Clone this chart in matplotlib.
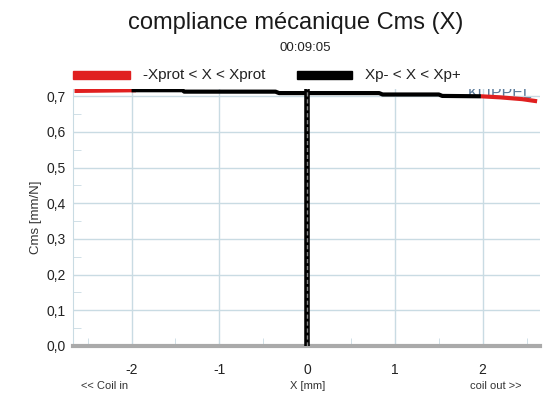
import numpy as np
import matplotlib.pyplot as plt

plt.rcParams['font.family'] = ['Liberation Sans', 'DejaVu Sans']
plt.rcParams['axes.unicode_minus'] = False

# Data
x_red_left = [-2.65, -2.3, -1.95]
cms_red_left = [0.715, 0.716, 0.717]

x_black = [-2.0, -1.42, -1.40, -0.36, -0.32, 0.82, 0.86, 1.50, 1.54, 1.98]
cms_black = [0.717, 0.717, 0.713, 0.713, 0.709, 0.709, 0.705, 0.705, 0.701, 0.700]

x_red_right = [1.98, 2.2, 2.45, 2.62]
cms_red_right = [0.700, 0.697, 0.692, 0.686]

x_rest = [0.0, 0.0]
cms_rest = [0.0, 0.73]

fig = plt.figure(figsize=(5.43, 3.98), dpi=100)
ax = fig.add_axes([0.134, 0.131, 0.86, 0.645])

ax.plot(x_red_left, cms_red_left, color='#e02020', lw=3, solid_capstyle='butt')
ax.plot(x_black, cms_black, color='black', lw=3, solid_capstyle='butt')
ax.plot(x_red_right, cms_red_right, color='#e02020', lw=3, solid_capstyle='butt')
ax.plot(x_rest, cms_rest, color='black', lw=4, solid_capstyle='butt', zorder=4)
ax.plot(x_rest, cms_rest, color='#888888', lw=1, ls=(0, (3, 2)), zorder=5)

ax.set_xlim(-2.67, 2.65)
ax.set_ylim(0, 0.72)
ax.set_xticks([-2, -1, 0, 1, 2])
ax.set_xticks(np.arange(-2.5, 2.6, 0.5), minor=True)
ax.set_yticks(np.arange(0, 0.71, 0.1))
ax.set_yticks(np.arange(0.05, 0.71, 0.1), minor=True)
ax.set_yticklabels([f'{v:.1f}'.replace('.', ',') for v in np.arange(0, 0.71, 0.1)])
ax.grid(True, which='major', color='#c9dbe3', lw=1)
ax.tick_params(which='both', direction='in', colors='#c9dbe3', labelcolor='#222222',
               labelsize=10)
ax.tick_params(which='major', length=0)
ax.tick_params(axis='x', which='major', pad=12)
ax.tick_params(axis='y', which='major', pad=5)
ax.tick_params(which='minor', length=6)
for side in ['top', 'right']:
    ax.spines[side].set_visible(False)
ax.spines['left'].set_color('#c9dbe3')
ax.spines['bottom'].set_color('#aaaaaa')
ax.spines['bottom'].set_linewidth(3)

ax.set_ylabel('Cms [mm/N]', fontsize=9.5, color='#333333', labelpad=3)

ax.text(0.985, 0.982, 'KLIPPEL', transform=ax.transAxes, ha='right', va='center',
        fontsize=11.5, color='#5a7a9a', clip_on=True, zorder=1)

# x-axis captions under the tick labels
ax.text(-2.31, -0.155, '<< Coil in', ha='center', va='center', fontsize=8, color='#333333',
        transform=ax.get_xaxis_transform(), clip_on=False)
ax.text(0, -0.155, 'X [mm]', ha='center', va='center', fontsize=8, color='#333333',
        transform=ax.get_xaxis_transform(), clip_on=False)
ax.text(2.15, -0.155, 'coil out >>', ha='center', va='center', fontsize=8, color='#333333',
        transform=ax.get_xaxis_transform(), clip_on=False)

fig.text(0.545, 0.942, 'compliance mécanique Cms (X)', ha='center', va='center',
         fontsize=17, color='#1a1a1a')
fig.text(0.562, 0.88, '00:09:05', ha='center', va='center', fontsize=9.5, color='#222222')

# legend drawn above the axes
fig.patches.append(plt.Rectangle((73 / 543, 1 - 79 / 398), 57 / 543, 8 / 398,
                                 transform=fig.transFigure, color='#e02020'))
fig.text(143 / 543, 1 - 75 / 398, '-Xprot < X < Xprot', ha='left', va='center',
         fontsize=11, color='#222222')
fig.patches.append(plt.Rectangle((297 / 543, 1 - 79 / 398), 55 / 543, 8 / 398,
                                 transform=fig.transFigure, color='black'))
fig.text(365 / 543, 1 - 75 / 398, 'Xp- < X < Xp+', ha='left', va='center',
         fontsize=11, color='#222222')

fig.savefig('out.png', dpi=100)
